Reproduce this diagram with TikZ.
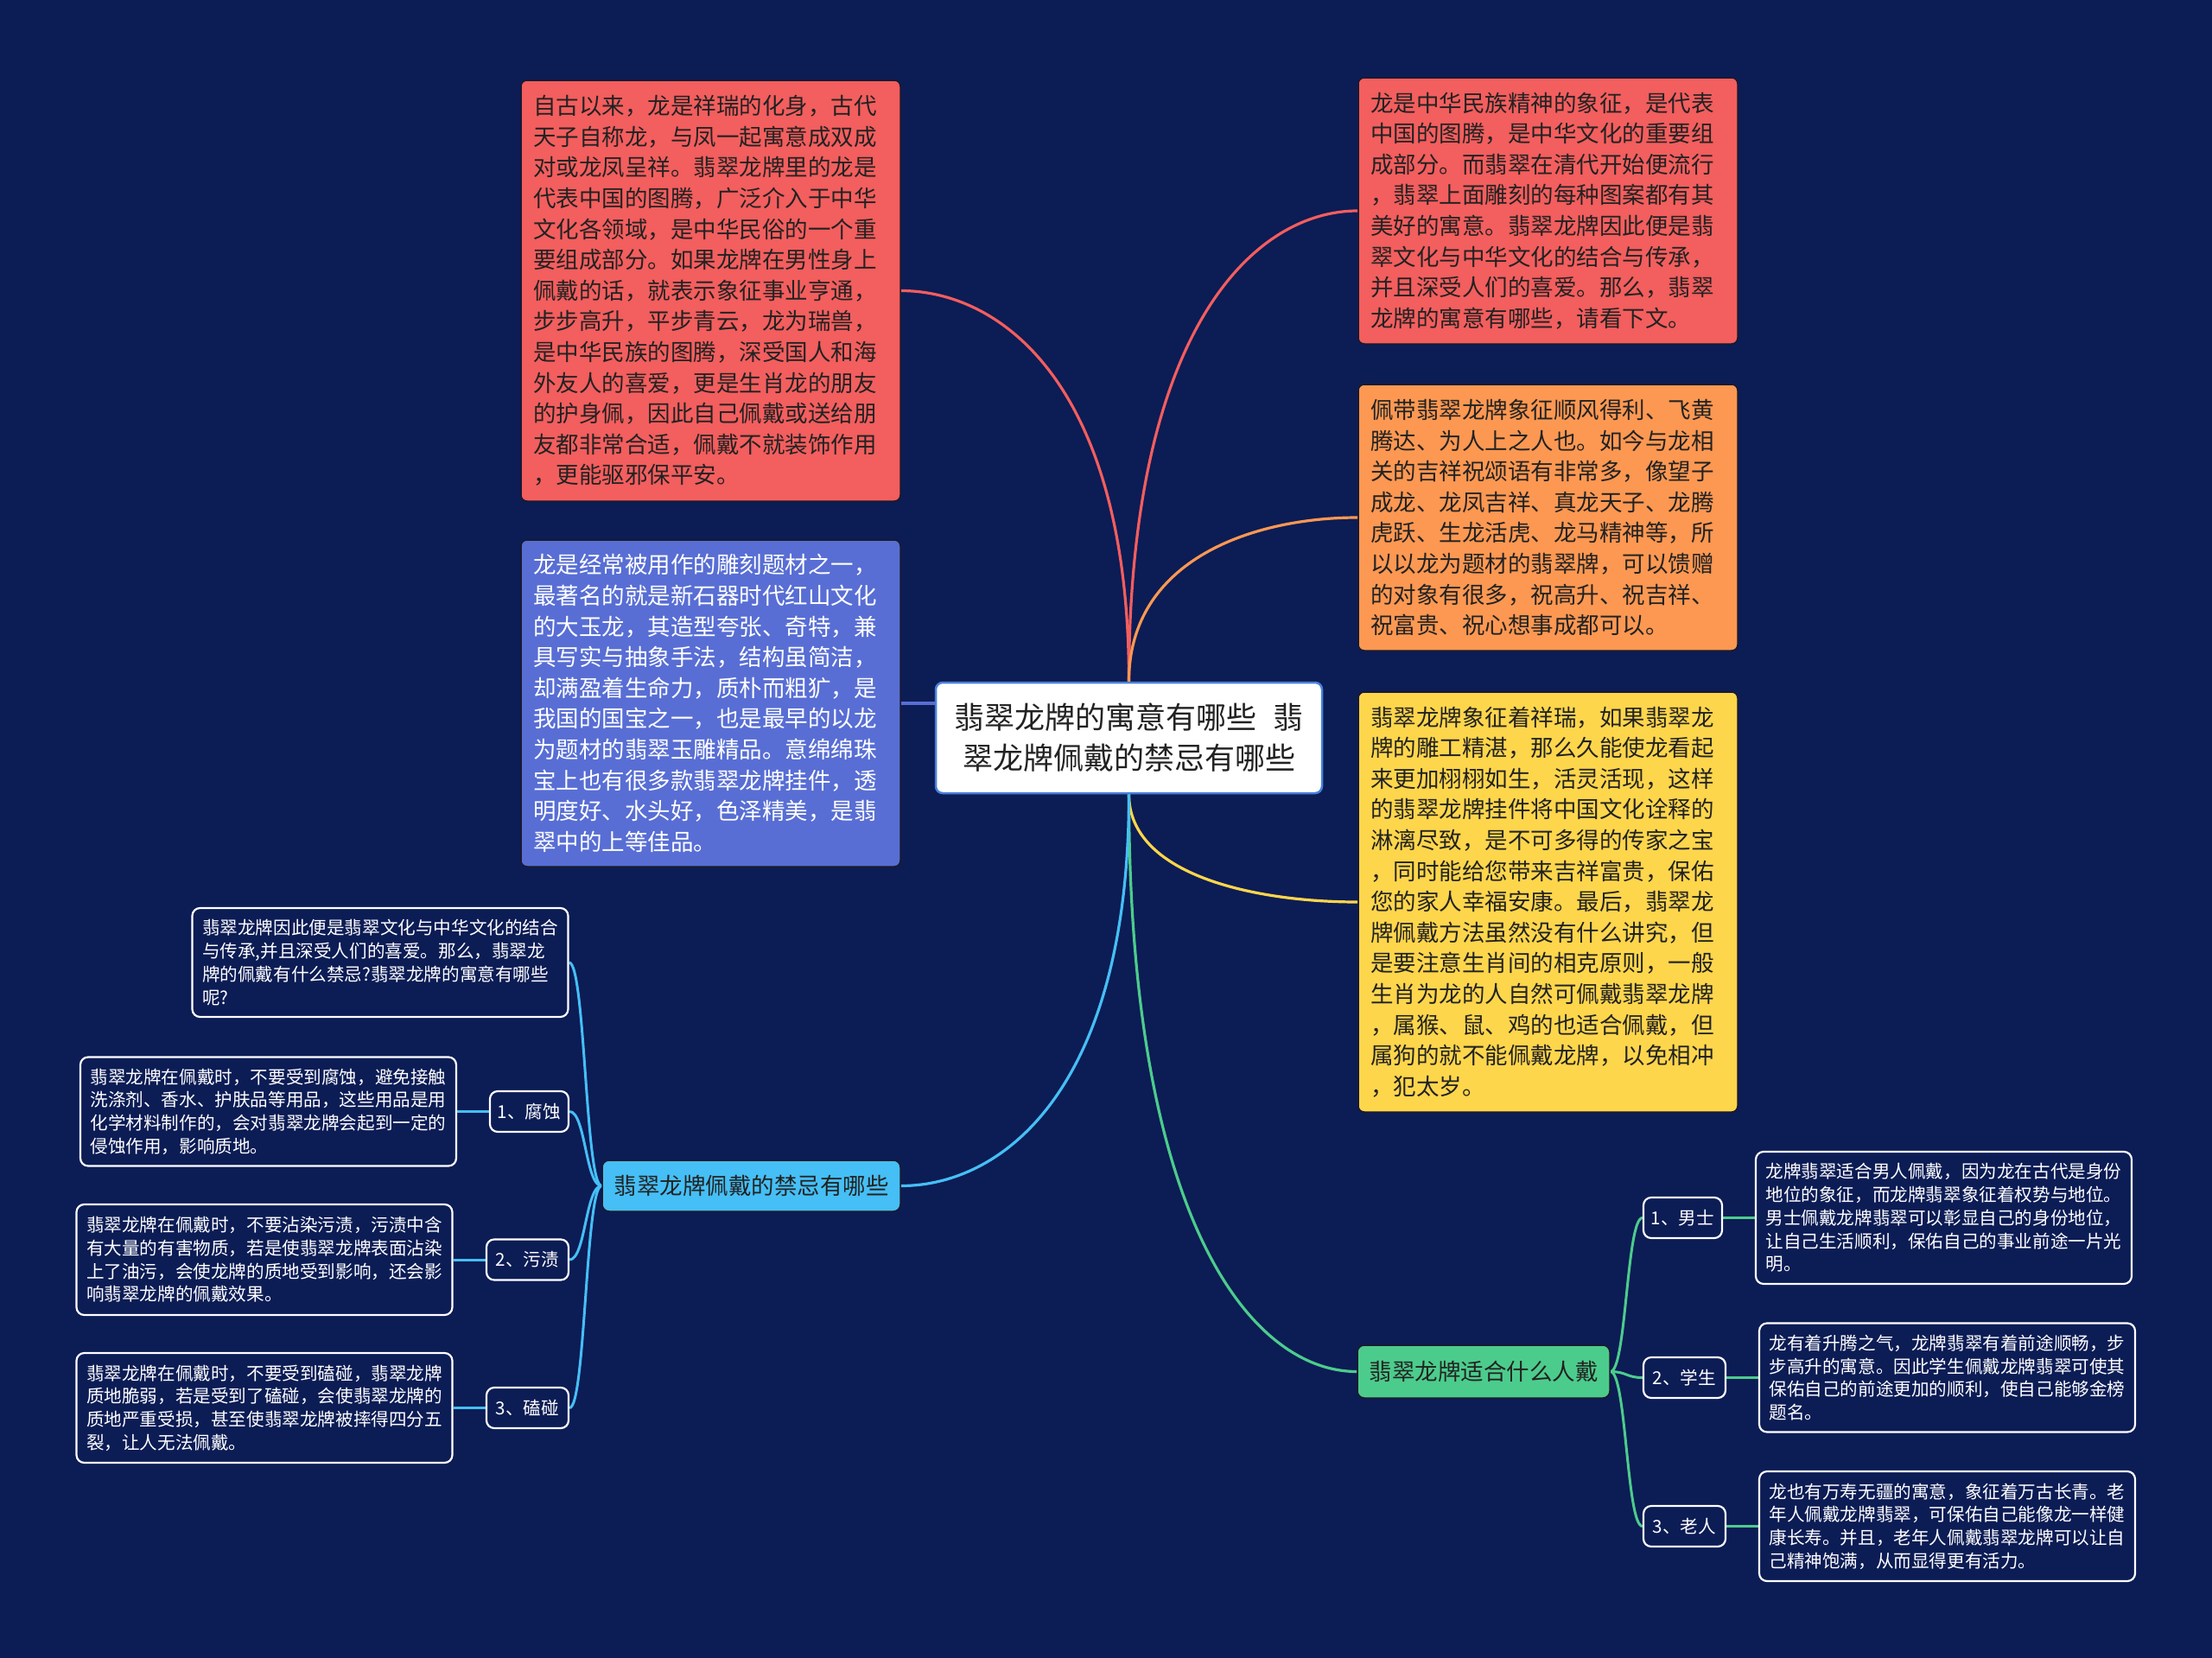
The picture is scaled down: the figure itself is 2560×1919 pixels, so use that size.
\documentclass[tikz,border=0pt]{standalone}
\usepackage{fontspec}
\setmainfont{Noto Sans CJK SC}
\usetikzlibrary{calc}
\definecolor{bgc}{HTML}{0C1C55}
\definecolor{redc}{HTML}{F35E5E}
\definecolor{orangec}{HTML}{FC9852}
\definecolor{yellowc}{HTML}{FED64C}
\definecolor{bluec}{HTML}{586ED4}
\definecolor{cyanc}{HTML}{45BFF5}
\definecolor{greenc}{HTML}{4CCC8C}
\definecolor{txtdark}{HTML}{222222}
\definecolor{boxline}{HTML}{1A1A2A}
\definecolor{rootline}{HTML}{4A80D9}
\pgfdeclarelayer{back}
\pgfdeclarelayer{edges}
\pgfsetlayers{back,edges,main}
\newcommand{\mmroot}[3]{\draw[#1] (#2) .. controls ($(#2)!0.75!(#2 |- #3)$) and ($(#3)!0.45!(#2 |- #3)$) .. (#3);}
\newcommand{\mmsub}[3]{\draw[#1] (#2) .. controls ($(#2)!0.5!(#2 -| #3)$) and ($(#3)!0.5!(#3 -| #2)$) .. (#3);}
\tikzset{
  bigbox/.style={rectangle, rounded corners=7pt, draw=boxline, line width=1.5pt, text=txtdark,
    inner xsep=14pt, inner ysep=0pt, text width=411pt, align=left, minimum width=439pt,
    font=\fontsize{26.5pt}{35.6pt}\selectfont},
  leafbox/.style={rectangle, rounded corners=9pt, draw=white, line width=2.2pt, fill=bgc, text=white,
    inner xsep=11.5pt, inner ysep=0pt, text width=412pt, align=left, minimum width=435pt,
    font=\fontsize{20.6pt}{26.7pt}\selectfont},
  subnode/.style={rectangle, rounded corners=9pt, draw=white, line width=2.2pt, fill=bgc, text=white,
    inner sep=0pt, minimum height=47pt, font=\fontsize{20.6pt}{24pt}\selectfont},
  branchbox/.style={rectangle, rounded corners=8pt, draw=boxline, line width=1.5pt, text=txtdark,
    inner sep=0pt, font=\fontsize{26.5pt}{30pt}\selectfont},
  rootbox/.style={rectangle, rounded corners=8pt, draw=rootline, line width=2.5pt, fill=white, text=txtdark,
    inner sep=0pt, align=center, font=\fontsize{35pt}{47pt}\selectfont},
  mainedge/.style={line width=3.2pt},
  subedge/.style={line width=3pt},
}
\begin{document}
\begin{tikzpicture}[x=1pt,y=-1pt]
\begin{pgfonlayer}{back}
\fill[bgc] (0,0) rectangle (2560,1919);
\end{pgfonlayer}
\useasboundingbox (0,0) rectangle (2560,1919);

% root
\node[rootbox, minimum width=447pt, minimum height=128pt] (root) at (1306.5,854)
  {翡翠龙牌的寓意有哪些\hspace{20pt}翡\\翠龙牌佩戴的禁忌有哪些};

% left big boxes
\node[bigbox, fill=redc, minimum height=487pt] (r1) at (822.5,336.5) {自古以来，龙是祥瑞的化身，古代\\天子自称龙，与凤一起寓意成双成\\对或龙凤呈祥。翡翠龙牌里的龙是\\代表中国的图腾，广泛介入于中华\\文化各领域，是中华民俗的一个重\\要组成部分。如果龙牌在男性身上\\佩戴的话，就表示象征事业亨通，\\步步高升，平步青云，龙为瑞兽，\\是中华民族的图腾，深受国人和海\\外友人的喜爱，更是生肖龙的朋友\\的护身佩，因此自己佩戴或送给朋\\友都非常合适，佩戴不就装饰作用\\，更能驱邪保平安。};

\node[bigbox, fill=bluec, text=white, minimum height=378pt] (bl) at (822.5,814) {龙是经常被用作的雕刻题材之一，\\最著名的就是新石器时代红山文化\\的大玉龙，其造型夸张、奇特，兼\\具写实与抽象手法，结构虽简洁，\\却满盈着生命力，质朴而粗犷，是\\我国的国宝之一，也是最早的以龙\\为题材的翡翠玉雕精品。意绵绵珠\\宝上也有很多款翡翠龙牌挂件，透\\明度好、水头好，色泽精美，是翡\\翠中的上等佳品。};

% right big boxes
\node[bigbox, fill=redc, minimum height=308pt] (r2) at (1791.5,244) {龙是中华民族精神的象征，是代表\\中国的图腾，是中华文化的重要组\\成部分。而翡翠在清代开始便流行\\，翡翠上面雕刻的每种图案都有其\\美好的寓意。翡翠龙牌因此便是翡\\翠文化与中华文化的结合与传承，\\并且深受人们的喜爱。那么，翡翠\\龙牌的寓意有哪些，请看下文。};

\node[bigbox, fill=orangec, minimum height=308pt] (or) at (1791.5,599) {佩带翡翠龙牌象征顺风得利、飞黄\\腾达、为人上之人也。如今与龙相\\关的吉祥祝颂语有非常多，像望子\\成龙、龙凤吉祥、真龙天子、龙腾\\虎跃、生龙活虎、龙马精神等，所\\以以龙为题材的翡翠牌，可以馈赠\\的对象有很多，祝高升、祝吉祥、\\祝富贵、祝心想事成都可以。};

\node[bigbox, fill=yellowc, minimum height=486pt] (ye) at (1791.5,1044) {翡翠龙牌象征着祥瑞，如果翡翠龙\\牌的雕工精湛，那么久能使龙看起\\来更加栩栩如生，活灵活现，这样\\的翡翠龙牌挂件将中国文化诠释的\\淋漓尽致，是不可多得的传家之宝\\，同时能给您带来吉祥富贵，保佑\\您的家人幸福安康。最后，翡翠龙\\牌佩戴方法虽然没有什么讲究，但\\是要注意生肖间的相克原则，一般\\生肖为龙的人自然可佩戴翡翠龙牌\\，属猴、鼠、鸡的也适合佩戴，但\\属狗的就不能佩戴龙牌，以免相冲\\，犯太岁。};

% branches
\node[branchbox, fill=cyanc, minimum width=345pt, minimum height=59pt] (cy) at (869.5,1372.5) {翡翠龙牌佩戴的禁忌有哪些};
\node[branchbox, fill=greenc, minimum width=292pt, minimum height=61pt] (gr) at (1717,1587.5) {翡翠龙牌适合什么人戴};

% left leaves
\node[leafbox, minimum height=126pt] (intro) at (440,1114) {翡翠龙牌因此便是翡翠文化与中华文化的结合\\与传承,并且深受人们的喜爱。那么，翡翠龙\\牌的佩戴有什么禁忌?翡翠龙牌的寓意有哪些\\呢?};
\node[subnode, minimum width=91pt] (s1) at (612.5,1286.5) {1、腐蚀};
\node[leafbox, minimum height=126pt] (l1) at (310.5,1286.5) {翡翠龙牌在佩戴时，不要受到腐蚀，避免接触\\洗涤剂、香水、护肤品等用品，这些用品是用\\化学材料制作的，会对翡翠龙牌会起到一定的\\侵蚀作用，影响质地。};
\node[subnode, minimum width=95pt] (s2) at (610.5,1458) {2、污渍};
\node[leafbox, minimum height=128pt] (l2) at (306,1458) {翡翠龙牌在佩戴时，不要沾染污渍，污渍中含\\有大量的有害物质，若是使翡翠龙牌表面沾染\\上了油污，会使龙牌的质地受到影响，还会影\\响翡翠龙牌的佩戴效果。};
\node[subnode, minimum width=95pt] (s3) at (610.5,1629.5) {3、磕碰};
\node[leafbox, minimum height=127pt] (l3) at (306,1629.5) {翡翠龙牌在佩戴时，不要受到磕碰，翡翠龙牌\\质地脆弱，若是受到了磕碰，会使翡翠龙牌的\\质地严重受损，甚至使翡翠龙牌被摔得四分五\\裂，让人无法佩戴。};

% right leaves
\node[subnode, minimum width=91pt] (t1) at (1947.5,1409.5) {1、男士};
\node[leafbox, minimum height=153pt] (m1) at (2249.5,1409.5) {龙牌翡翠适合男人佩戴，因为龙在古代是身份\\地位的象征，而龙牌翡翠象征着权势与地位。\\男士佩戴龙牌翡翠可以彰显自己的身份地位，\\让自己生活顺利，保佑自己的事业前途一片光\\明。};
\node[subnode, minimum width=95pt] (t2) at (1949.5,1594.5) {2、学生};
\node[leafbox, minimum height=126pt] (m2) at (2253.5,1594.5) {龙有着升腾之气，龙牌翡翠有着前途顺畅，步\\步高升的寓意。因此学生佩戴龙牌翡翠可使其\\保佑自己的前途更加的顺利，使自己能够金榜\\题名。};
\node[subnode, minimum width=95pt] (t3) at (1949.5,1766.5) {3、老人};
\node[leafbox, minimum height=127pt] (m3) at (2253.5,1766.5) {龙也有万寿无疆的寓意，象征着万古长青。老\\年人佩戴龙牌翡翠，可保佑自己能像龙一样健\\康长寿。并且，老年人佩戴翡翠龙牌可以让自\\己精神饱满，从而显得更有活力。};

\begin{pgfonlayer}{edges}
\mmroot{mainedge, draw=redc}{root.north}{r1.east}
\mmroot{mainedge, draw=redc}{root.north}{r2.west}
\mmroot{mainedge, draw=orangec}{root.north}{or.west}
\mmroot{mainedge, draw=yellowc}{root.south}{ye.west}
\mmroot{mainedge, draw=greenc}{root.south}{gr.west}
\mmroot{mainedge, draw=cyanc}{root.south}{cy.east}
\draw[mainedge, draw=bluec] (bl.east) -- (bl.east -| root.west);

\mmsub{subedge, draw=cyanc}{cy.west}{intro.east}
\mmsub{subedge, draw=cyanc}{cy.west}{s1.east}
\mmsub{subedge, draw=cyanc}{cy.west}{s2.east}
\mmsub{subedge, draw=cyanc}{cy.west}{s3.east}
\draw[subedge, draw=cyanc] (s1.west) -- (l1.east);
\draw[subedge, draw=cyanc] (s2.west) -- (l2.east);
\draw[subedge, draw=cyanc] (s3.west) -- (l3.east);

\mmsub{subedge, draw=greenc}{gr.east}{t1.west}
\mmsub{subedge, draw=greenc}{gr.east}{t2.west}
\mmsub{subedge, draw=greenc}{gr.east}{t3.west}
\draw[subedge, draw=greenc] (t1.east) -- (m1.west);
\draw[subedge, draw=greenc] (t2.east) -- (m2.west);
\draw[subedge, draw=greenc] (t3.east) -- (m3.west);
\end{pgfonlayer}
\end{tikzpicture}
\end{document}
